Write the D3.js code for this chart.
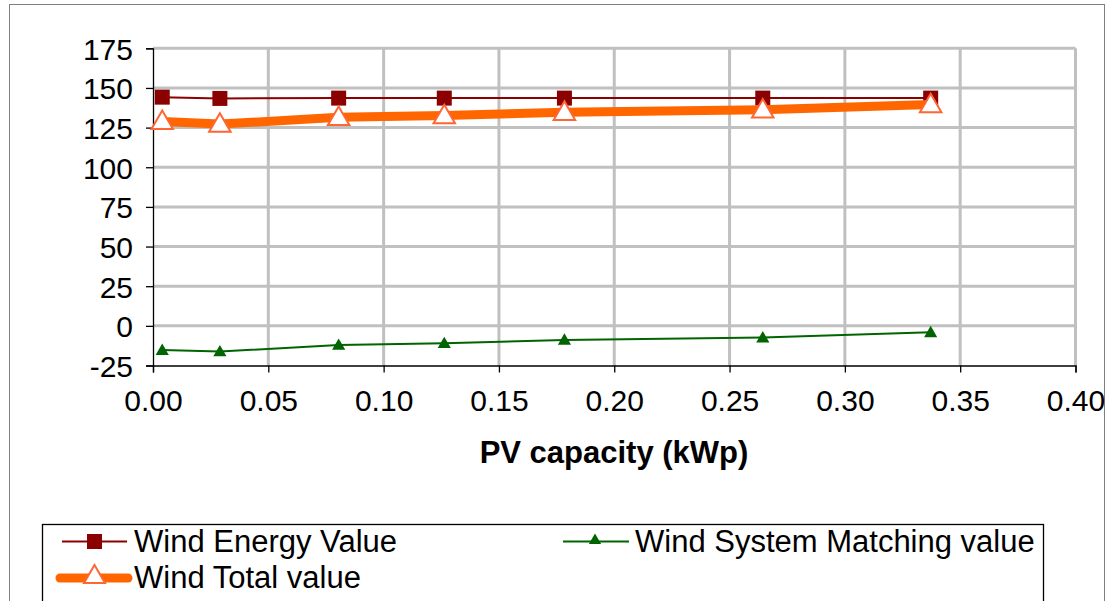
<!DOCTYPE html>
<html>
<head>
<meta charset="utf-8">
<script src="https://cdn.jsdelivr.net/npm/d3@7"></script>
<style>
  html, body { margin: 0; padding: 0; background: #fff; }
  svg text { font-family: "Liberation Sans", Arial, sans-serif; fill: #000; }
</style>
</head>
<body>
<svg id="chart" width="1107" height="601"></svg>
<script>
// PV capacity (kWp) at each simulated configuration
const pvCapacity = [0.004, 0.029, 0.0805, 0.1263, 0.1784, 0.2644, 0.3372];
// Value components per configuration
const windEnergyValue = [144.2, 143.4, 143.6, 143.6, 143.6, 143.6, 143.6];
const windMatchingValue = [-15.3, -16.2, -12.1, -11.0, -8.9, -7.4, -4.1];
const windTotalValue = [128.9, 127.2, 131.5, 132.6, 134.7, 136.2, 139.5];

const xTicks = [0, 0.05, 0.10, 0.15, 0.20, 0.25, 0.30, 0.35, 0.40];
const yTicks = [-25, 0, 25, 50, 75, 100, 125, 150, 175];

const TICK_FONT = 30;
const TEXT_FONT = 31;
const svg = d3.select("#chart");

// Chart area frame
svg.append("rect")
  .attr("x", 9.5).attr("y", 4.5)
  .attr("width", 1095).attr("height", 620)
  .attr("fill", "#fff").attr("stroke", "#808080").attr("stroke-width", 1);

const plot = { left: 153, right: 1075.5, top: 48.3, bottom: 365.5 };

const x = d3.scaleLinear().domain([0, 0.40]).range([plot.left, plot.right]);
const y = d3.scaleLinear().domain([-25, 175]).range([plot.bottom, plot.top]);

// Gridlines
const grid = svg.append("g");
grid.selectAll("line.h").data(yTicks.filter(d => d > -25)).join("line")
  .attr("x1", plot.left).attr("x2", plot.right)
  .attr("y1", d => y(d)).attr("y2", d => y(d))
  .attr("stroke", "#c0c0c0").attr("stroke-width", 3);
grid.selectAll("line.v").data(xTicks.filter(d => d > 0)).join("line")
  .attr("x1", d => x(d)).attr("x2", d => x(d))
  .attr("y1", plot.top).attr("y2", plot.bottom)
  .attr("stroke", "#c0c0c0").attr("stroke-width", 3);

// Axes
const yAxis = d3.axisLeft(y).tickValues(yTicks).tickFormat(d => String(d))
  .tickSize(7).tickPadding(13);
const xAxis = d3.axisBottom(x).tickValues(xTicks).tickFormat(d => d.toFixed(2))
  .tickSize(7).tickPadding(17);

const gy = svg.append("g").attr("transform", `translate(${plot.left},0)`).call(yAxis);
const gx = svg.append("g").attr("transform", `translate(0,${plot.bottom})`).call(xAxis);
[gx, gy].forEach(g => {
  g.attr("font-size", TICK_FONT).attr("font-family", "'Liberation Sans', Arial, sans-serif");
  g.select(".domain").attr("stroke", "#000").attr("stroke-width", 1.3);
  g.selectAll(".tick line").attr("stroke", "#000").attr("stroke-width", 1.3);
  g.selectAll(".tick text").attr("font-size", TICK_FONT).attr("fill", "#000");
});
gy.selectAll(".tick text").attr("dy", "0.36em");

svg.append("text")
  .attr("x", 614).attr("y", 463)
  .attr("text-anchor", "middle").attr("font-size", TEXT_FONT).attr("font-weight", "bold")
  .text("PV capacity (kWp)");

const pts = vals => pvCapacity.map((c, i) => [x(c), y(vals[i])]);
const line = d3.line();
const tri = d3.symbol().type(d3.symbolTriangle);

// Wind Energy Value
svg.append("path").attr("d", line(pts(windEnergyValue)))
  .attr("fill", "none").attr("stroke", "#8b0000").attr("stroke-width", 2);
svg.append("g").selectAll("rect").data(pts(windEnergyValue)).join("rect")
  .attr("x", d => d[0] - 7.5).attr("y", d => d[1] - 7.5)
  .attr("width", 15).attr("height", 15).attr("fill", "#8b0000");

// Wind System Matching value
svg.append("path").attr("d", line(pts(windMatchingValue)))
  .attr("fill", "none").attr("stroke", "#006400").attr("stroke-width", 2);
svg.append("g").selectAll("path").data(pts(windMatchingValue)).join("path")
  .attr("d", tri.size(75)())
  .attr("transform", d => `translate(${d[0]},${d[1] + 1})`)
  .attr("fill", "#006400");

// Wind Total value
svg.append("path").attr("d", line(pts(windTotalValue)))
  .attr("fill", "none").attr("stroke", "#ff6600").attr("stroke-width", 9)
  .attr("stroke-linejoin", "round");
svg.append("g").selectAll("path").data(pts(windTotalValue)).join("path")
  .attr("d", tri.size(200)())
  .attr("transform", d => `translate(${d[0]},${d[1] + 1.5})`)
  .attr("fill", "#fff").attr("stroke", "#ff6633").attr("stroke-width", 2);

// Legend
const lg = svg.append("g");
lg.append("rect").attr("x", 42.5).attr("y", 524.5).attr("width", 1001).attr("height", 100)
  .attr("fill", "#fff").attr("stroke", "#000").attr("stroke-width", 1.3);

const ly1 = 541.5, ly2 = 578;
lg.append("line").attr("x1", 62).attr("x2", 127).attr("y1", ly1).attr("y2", ly1)
  .attr("stroke", "#8b0000").attr("stroke-width", 2);
lg.append("rect").attr("x", 94.5 - 7.5).attr("y", ly1 - 7.5).attr("width", 15).attr("height", 15)
  .attr("fill", "#8b0000");
lg.append("text").attr("x", 134).attr("y", 552).attr("font-size", TEXT_FONT).text("Wind Energy Value");

lg.append("line").attr("x1", 563).attr("x2", 629).attr("y1", ly1).attr("y2", ly1)
  .attr("stroke", "#006400").attr("stroke-width", 2);
lg.append("path").attr("d", tri.size(65)()).attr("transform", `translate(595,${ly1 - 1})`)
  .attr("fill", "#006400");
lg.append("text").attr("x", 635).attr("y", 552).attr("font-size", TEXT_FONT).text("Wind System Matching value");

lg.append("line").attr("x1", 60).attr("x2", 128).attr("y1", ly2).attr("y2", ly2)
  .attr("stroke", "#ff6600").attr("stroke-width", 9).attr("stroke-linecap", "round");
lg.append("path").attr("d", tri.size(190)()).attr("transform", `translate(94.5,${ly2 - 1})`)
  .attr("fill", "#fff").attr("stroke", "#ff6633").attr("stroke-width", 2);
lg.append("text").attr("x", 134).attr("y", 588).attr("font-size", TEXT_FONT).text("Wind Total value");
</script>
</body>
</html>
